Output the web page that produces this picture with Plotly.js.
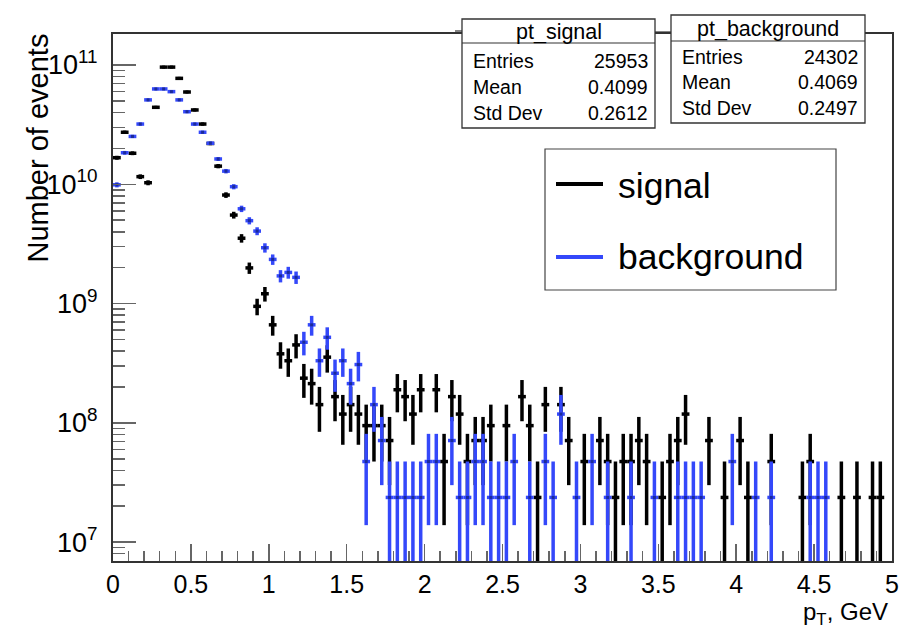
<!DOCTYPE html>
<html>
<head>
<meta charset="utf-8">
<script src="https://cdn.plot.ly/plotly-3.0.1.min.js"></script>
<style>
html,body{margin:0;padding:0;background:#fff;}
#chart{width:905px;height:630px;}
</style>
</head>
<body>
<div id="chart"></div>
<script>
// ---- data (histogram: 100 bins over 0..5 GeV, entries per bin, weighted) ----
const binLow = 0;
const binHigh = 5;
const nBins = 100;
const eventWeight = 2.37e7;

const signalCounts = [
  705,1152,768,489,435,1865,4051,4051,3262,2506,1772,1350,928,599,343,233,149,84,40,51,
  28,16,14,19,10,9,6,15,7,5,6,5,4,4,4,3,8,7,5,8,
  0,8,2,7,5,2,3,3,4,0,4,0,7,4,1,6,0,6,3,0,
  2,0,3,2,1,2,2,3,2,0,1,2,3,5,0,0,3,0,1,0,
  3,1,0,0,2,0,0,0,1,2,0,0,0,1,0,1,0,1,1,0
];
const backgroundCounts = [
  418,776,1063,1350,2152,2658,2658,2523,2152,1713,1350,1152,932,688,544,403,263,209,171,124,
  99,72,77,70,20,28,14,22,11,14,9,13,2,6,3,1,1,1,1,1,
  2,2,0,3,1,1,2,2,1,1,1,2,0,1,0,2,1,5,0,1,
  0,2,0,1,0,0,1,0,0,1,0,0,1,1,1,1,0,0,0,2,
  0,0,1,0,1,0,0,0,0,1,1,1,0,0,0,0,0,0,0,0
];
const seriesNames = ['signal', 'background'];
const statsSignal = {title: 'pt_signal', entries: '25953', mean: '0.4099', std: '0.2612'};
const statsBackground = {title: 'pt_background', entries: '24302', mean: '0.4069', std: '0.2497'};
const xTickVals = [0, 0.5, 1, 1.5, 2, 2.5, 3, 3.5, 4, 4.5, 5];
const xTickText = ['0', '0.5', '1', '1.5', '2', '2.5', '3', '3.5', '4', '4.5', '5'];
const yTickVals = [1e7, 1e8, 1e9, 1e10, 1e11];

// ---- helpers ----
const binWidth = (binHigh - binLow) / nBins;
const centers = [];
for (let i = 0; i < nBins; i++) centers.push(binLow + binWidth * (i + 0.5));

function histTrace(counts, color, markerColor) {
  const y = [], up = [], dn = [];
  counts.forEach(function (n) {
    if (n > 0) {
      y.push(n * eventWeight);
      const e = Math.sqrt(n) * eventWeight;
      up.push(e); dn.push(e);
    } else { y.push(null); up.push(null); dn.push(null); }
  });
  return {
    type: 'scatter', mode: 'markers', x: centers, y: y,
    marker: {size: 3, color: markerColor, symbol: 'square'},
    error_y: {type: 'data', symmetric: false, array: up, arrayminus: dn,
              thickness: 3.5, width: 0, color: color},
    error_x: {type: 'constant', value: binWidth / 2, thickness: 3.5, width: 0, color: color},
    showlegend: false, hoverinfo: 'x+y'
  };
}

// plot frame in pixels
const L = 113, R = 892, T = 34, B = 561;
const px = v => (v - L) / (R - L);
const py = v => (B - v) / (B - T);

const FONT = 'Liberation Sans, Arial, Helvetica, sans-serif';
const black = '#000000';
const blue = 'rgb(52,72,250)';

const traces = [
  histTrace(signalCounts, black, '#000'),
  histTrace(backgroundCounts, blue, '#1a2a9a')
];

const shapes = [];
const annotations = [];

function rectPx(x0, y0, x1, y1, w, col) {
  shapes.push({type: 'rect', xref: 'paper', yref: 'paper', x0: px(x0), x1: px(x1), y0: py(y1), y1: py(y0),
               line: {color: col || '#333', width: w || 1.2}, fillcolor: 'white', layer: 'above'});
}
function linePx(x0, y0, x1, y1, w, col) {
  shapes.push({type: 'line', xref: 'paper', yref: 'paper', x0: px(x0), x1: px(x1), y0: py(y0), y1: py(y1),
               line: {color: col || '#333', width: w || 1.2}, layer: 'above'});
}
function textPx(t, x, y, size, anchor, extra) {
  annotations.push(Object.assign({text: t, xref: 'paper', yref: 'paper', x: px(x), y: py(y),
    xanchor: anchor || 'left', yanchor: 'middle', showarrow: false,
    font: {family: FONT, size: size, color: '#000'}}, extra || {}));
}

function statsBox(s, x0, y0, x1, y1, hdr, rows) {
  rectPx(x0, y0, x1, y1, 1.3);
  linePx(x0, hdr, x1, hdr, 1.2);
  textPx(s.title, (x0 + x1) / 2, (y0 + hdr) / 2 + 1, 21.5, 'center');
  const labels = ['Entries', 'Mean', 'Std Dev'];
  const vals = [s.entries, s.mean, s.std];
  for (let k = 0; k < 3; k++) {
    textPx(labels[k], x0 + 9, rows[k], 19.5, 'left');
    textPx(vals[k], x1 - 5, rows[k], 19.5, 'right');
  }
}
linePx(455, 31, 462, 31, 1.2);
linePx(655, 32, 671, 32, 1.2);
statsBox(statsSignal, 462, 19, 655, 128, 43, [61, 87, 113]);
statsBox(statsBackground, 671, 15, 865, 123, 41, [57, 82, 108]);

// legend
rectPx(545, 149, 836, 290, 1.2, '#444');
linePx(556, 184, 603, 184, 4, black);
linePx(556, 257, 603, 257, 4, blue);
textPx(seriesNames[0], 616, 186, 35.5, 'left');
textPx(seriesNames[1], 616, 257, 35.5, 'left');

// axis titles
annotations.push({text: 'Number of events', xref: 'paper', yref: 'paper', x: px(38), y: py(32),
  xanchor: 'center', yanchor: 'top', textangle: -90, showarrow: false,
  font: {family: FONT, size: 29, color: '#000'}});
annotations.push({text: 'p<sub>T</sub>, GeV', xref: 'paper', yref: 'paper', x: px(889), y: py(613),
  xanchor: 'right', yanchor: 'middle', showarrow: false, borderpad: 0,
  font: {family: FONT, size: 24, color: '#000'}});

const layout = {
  width: 905, height: 630,
  margin: {l: L, r: 905 - R, t: T, b: 630 - B, pad: 0},
  paper_bgcolor: 'white', plot_bgcolor: 'white',
  font: {family: FONT, size: 24, color: '#000'},
  xaxis: {
    range: [binLow, binHigh], showgrid: false, zeroline: false,
    showline: true, mirror: true, linecolor: '#333', linewidth: 2,
    ticks: 'inside', ticklen: 17, tickwidth: 1.5, tickcolor: '#666',
    tickmode: 'array', tickvals: xTickVals, ticktext: xTickText,
    tickfont: {family: FONT, size: 25, color: '#000'}, ticklabelstandoff: 0,
    minor: {tickmode: 'linear', tick0: 0, dtick: 0.1, ticks: 'inside', ticklen: 10, tickwidth: 1.5, tickcolor: '#666', showgrid: false}
  },
  yaxis: {
    type: 'log', range: [6.842, 11.26], showgrid: false, zeroline: false,
    showline: true, mirror: true, linecolor: '#333', linewidth: 2,
    ticks: 'inside', ticklen: 23, tickwidth: 1.5, tickcolor: '#666',
    tickmode: 'array', tickvals: yTickVals,
    ticktext: yTickVals.map(v => '10<sup>' + Math.round(Math.log10(v)) + '</sup>'),
    tickfont: {family: FONT, size: 27, color: '#000'}, ticklabelstandoff: 8,
    minor: {ticks: 'inside', ticklen: 12, tickwidth: 1.5, tickcolor: '#666', dtick: 'D1', showgrid: false}
  },
  shapes: shapes,
  annotations: annotations,
  showlegend: false
};

Plotly.newPlot('chart', traces, layout, {displayModeBar: false, staticPlot: true});
</script>
</body>
</html>
